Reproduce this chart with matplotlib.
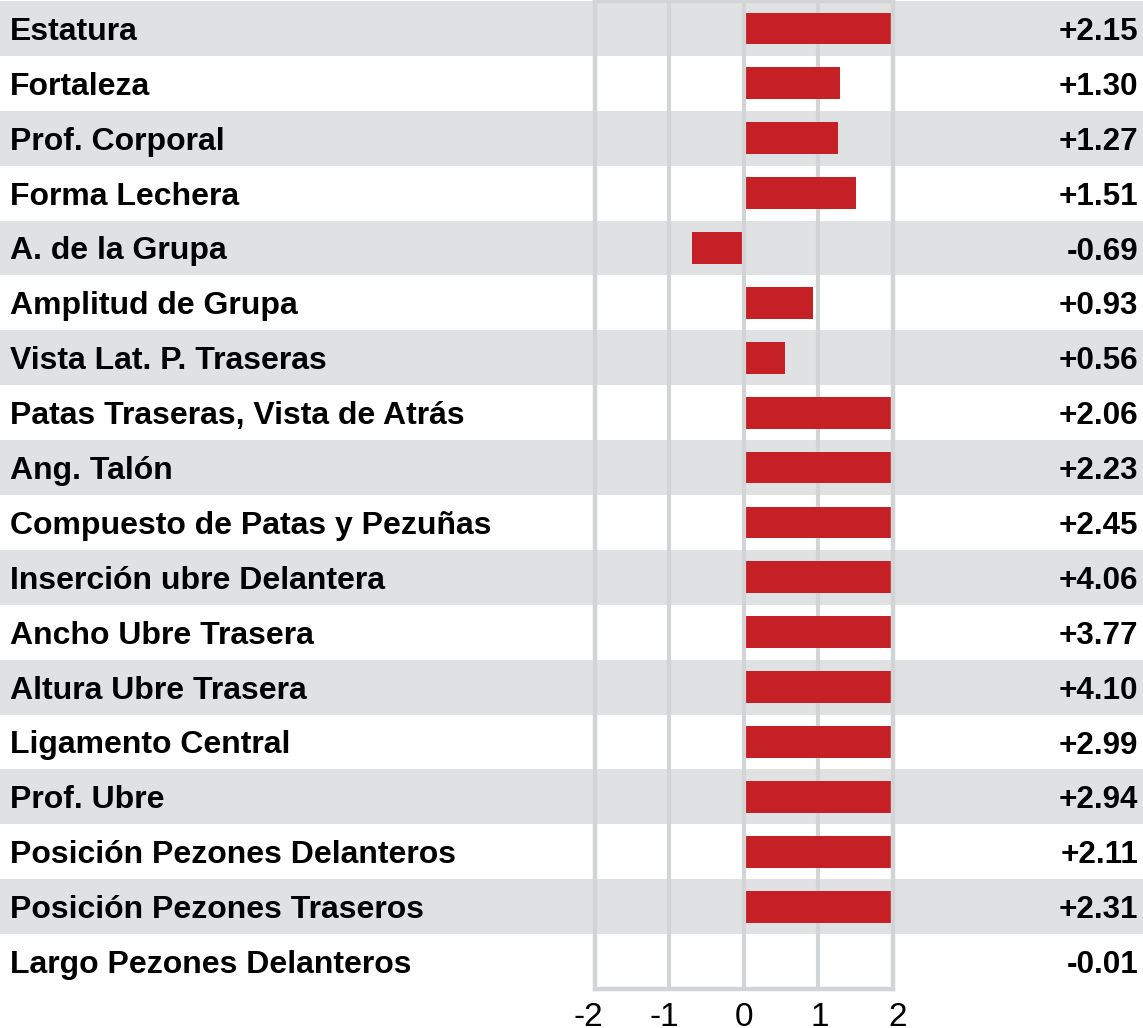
import matplotlib
matplotlib.use('Agg')
import matplotlib.pyplot as plt
import matplotlib.transforms as mtransforms
import numpy as np

plt.rcParams['font.family'] = ['Liberation Sans', 'DejaVu Sans']

LABELS = [
    'Estatura',
    'Fortaleza',
    'Prof. Corporal',
    'Forma Lechera',
    'A. de la Grupa',
    'Amplitud de Grupa',
    'Vista Lat. P. Traseras',
    'Patas Traseras, Vista de Atrás',
    'Ang. Talón',
    'Compuesto de Patas y Pezuñas',
    'Inserción ubre Delantera',
    'Ancho Ubre Trasera',
    'Altura Ubre Trasera',
    'Ligamento Central',
    'Prof. Ubre',
    'Posición Pezones Delanteros',
    'Posición Pezones Traseros',
    'Largo Pezones Delanteros',
]
VALUES = [2.15, 1.30, 1.27, 1.51, -0.69, 0.93, 0.56, 2.06, 2.23, 2.45,
          4.06, 3.77, 4.10, 2.99, 2.94, 2.11, 2.31, -0.01]
X_TICKS = [-2, -1, 0, 1, 2]

BAR_COLOR = '#c42026'
BAND_COLOR = '#e0e1e3'
GRID_COLOR = '#d3d4d6'

W, H = 1143, 1028
fig = plt.figure(figsize=(W / 100, H / 100), dpi=100)

# vertical extent of the rows, in pixels from the top
top_px, bot_px = 1, 989
bottom = 1 - bot_px / H
height = (bot_px - top_px) / H

n = len(LABELS)
y = np.arange(n)

# background bands + text, full width
ax_bg = fig.add_axes([0, bottom, 1, height])
ax_bg.set_xlim(0, 1)
ax_bg.set_ylim(n - 0.5, -0.5)
ax_bg.axis('off')
even = y[::2]
ax_bg.barh(even, 1, left=0, height=1, color=BAND_COLOR, linewidth=0)
for i, (lab, val) in enumerate(zip(LABELS, VALUES)):
    ax_bg.text(10 / W, i, lab, ha='left', va='center_baseline',
               fontsize=23, fontweight='bold', color='black')
    ax_bg.text(1138 / W, i, f'{val:+.2f}', ha='right', va='center_baseline',
               fontsize=22.6, fontweight='bold', color='black')

# bar chart
x0, x1 = 594.5, 892.5
ax = fig.add_axes([x0 / W, bottom, (x1 - x0) / W, height])
ax.set_facecolor('none')
ax.set_xlim(-2, 2)
ax.set_ylim(n - 0.5, -0.5)
for xv in (-1, 1):
    ax.axvline(xv, color=GRID_COLOR, linewidth=3, zorder=1)
ax.barh(y, VALUES, height=0.58, color=BAR_COLOR, linewidth=0, zorder=2)
ax.axvline(0, color=GRID_COLOR, linewidth=3, zorder=3)

for s in ax.spines.values():
    s.set_color(GRID_COLOR)
    s.set_linewidth(3.2)
ax.set_yticks([])
ax.set_xticks(X_TICKS)
ax.set_xticklabels([str(t) for t in X_TICKS])
ax.tick_params(axis='x', length=0, pad=9, labelsize=24)

# nudge tick labels a little, as in the source picture
shifts = {-2: -6, -1: -5, 0: 0, 1: 2, 2: 5}
for t, lbl in zip(X_TICKS, ax.get_xticklabels()):
    off = mtransforms.ScaledTranslation(shifts[t] / 100, 0, fig.dpi_scale_trans)
    lbl.set_transform(lbl.get_transform() + off)

fig.savefig('out.png', dpi=100)
